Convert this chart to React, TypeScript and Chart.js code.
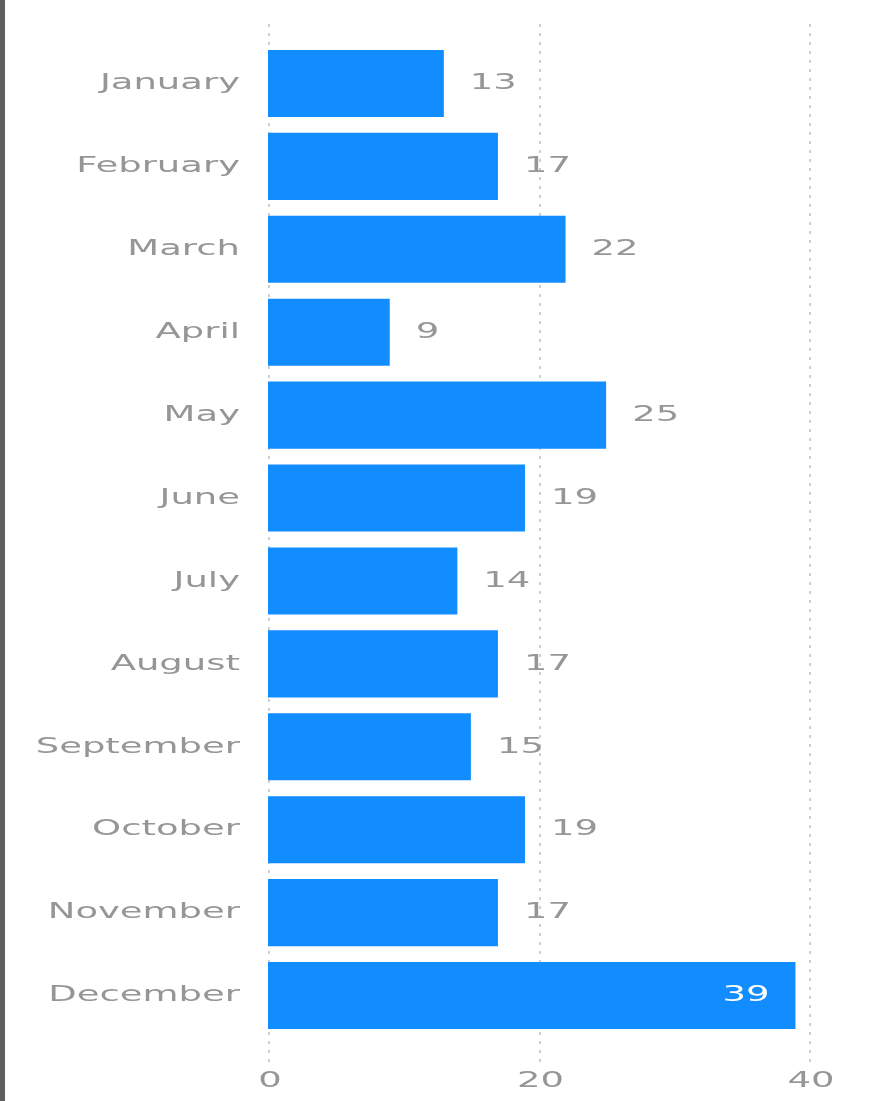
import React, { useEffect, useRef } from "react";
import { Chart, registerables } from "chart.js";

Chart.register(...registerables);

const categories = [
  "January",
  "February",
  "March",
  "April",
  "May",
  "June",
  "July",
  "August",
  "September",
  "October",
  "November",
  "December",
];
const values = [13, 17, 22, 9, 25, 19, 14, 17, 15, 19, 17, 39];
const xTickValues = [0, 20, 40];

const BAR_COLOR = "#118DFF";
const TEXT_COLOR = "#969696";
const FONT = '22px "DejaVu Sans"';
const SX = 1.68;

function drawStretched(
  ctx: CanvasRenderingContext2D,
  text: string,
  x: number,
  y: number,
  align: "left" | "right" | "center",
  color: string
) {
  ctx.save();
  ctx.font = FONT;
  ctx.fillStyle = color;
  ctx.textBaseline = "middle";
  ctx.textAlign = "left";
  const w = ctx.measureText(text).width * SX;
  const left = align === "left" ? x : align === "right" ? x - w : x - w / 2;
  ctx.translate(left, y);
  ctx.scale(SX, 1);
  ctx.fillText(text, 0, 0);
  ctx.restore();
}

function textWidth(ctx: CanvasRenderingContext2D, text: string) {
  ctx.save();
  ctx.font = FONT;
  const w = ctx.measureText(text).width * SX;
  ctx.restore();
  return w;
}

const decorPlugin = {
  id: "decor",
  beforeDatasetsDraw(chart: any) {
    const { ctx, chartArea } = chart;
    const xScale = chart.scales.x;
    ctx.save();
    ctx.strokeStyle = "#cfcfcf";
    ctx.lineWidth = 2;
    ctx.setLineDash([3, 6]);
    xTickValues.forEach((v) => {
      const x = Math.round(xScale.getPixelForValue(v)) + 1;
      ctx.beginPath();
      ctx.moveTo(x, chartArea.top - 18);
      ctx.lineTo(x, chartArea.bottom + 26);
      ctx.stroke();
    });
    ctx.restore();
  },
  afterDatasetsDraw(chart: any) {
    const { ctx, chartArea } = chart;
    const xScale = chart.scales.x;
    const yScale = chart.scales.y;
    categories.forEach((c, i) => {
      const y = yScale.getPixelForValue(i);
      drawStretched(ctx, c, chartArea.left - 28, y, "right", TEXT_COLOR);
    });
    values.forEach((v, i) => {
      const y = yScale.getPixelForValue(i);
      const xEnd = xScale.getPixelForValue(v);
      const label = String(v);
      const w = textWidth(ctx, label);
      if (xEnd + 26 + w > chartArea.right) {
        drawStretched(ctx, label, xEnd - 26, y, "right", "#ffffff");
      } else {
        drawStretched(ctx, label, xEnd + 26, y, "left", TEXT_COLOR);
      }
    });
    xTickValues.forEach((v) => {
      const x = xScale.getPixelForValue(v) + 2;
      drawStretched(ctx, String(v), x, chartArea.bottom + 44, "center", TEXT_COLOR);
    });
  },
};

export default function App() {
  const canvasRef = useRef<HTMLCanvasElement | null>(null);

  useEffect(() => {
    if (!canvasRef.current) return;
    const chart = new Chart(canvasRef.current, {
      type: "bar",
      data: {
        labels: categories,
        datasets: [
          {
            data: values,
            backgroundColor: BAR_COLOR,
            borderWidth: 0,
            categoryPercentage: 0.81,
            barPercentage: 1,
          },
        ],
      },
      options: {
        indexAxis: "y",
        animation: false,
        responsive: true,
        maintainAspectRatio: false,
        layout: {
          padding: { left: 268, right: 87, top: 42, bottom: 64 },
        },
        plugins: {
          legend: { display: false },
          tooltip: { enabled: false },
        },
        scales: {
          x: {
            type: "linear",
            min: 0,
            max: 40,
            display: false,
            ticks: { stepSize: 20 },
          },
          y: {
            type: "category",
            display: false,
          },
        },
      },
      plugins: [decorPlugin],
    });
    return () => chart.destroy();
  }, []);

  return (
    <div
      style={{
        position: "fixed",
        left: 0,
        top: 0,
        width: 896,
        height: 1101,
        background: "#ffffff",
      }}
    >
      <div
        style={{
          position: "absolute",
          left: 0,
          top: 0,
          width: 5,
          height: 1101,
          background: "#5e5e5e",
        }}
      />
      <div style={{ position: "absolute", left: 0, top: 0, width: 896, height: 1101 }}>
        <canvas ref={canvasRef} />
      </div>
    </div>
  );
}
